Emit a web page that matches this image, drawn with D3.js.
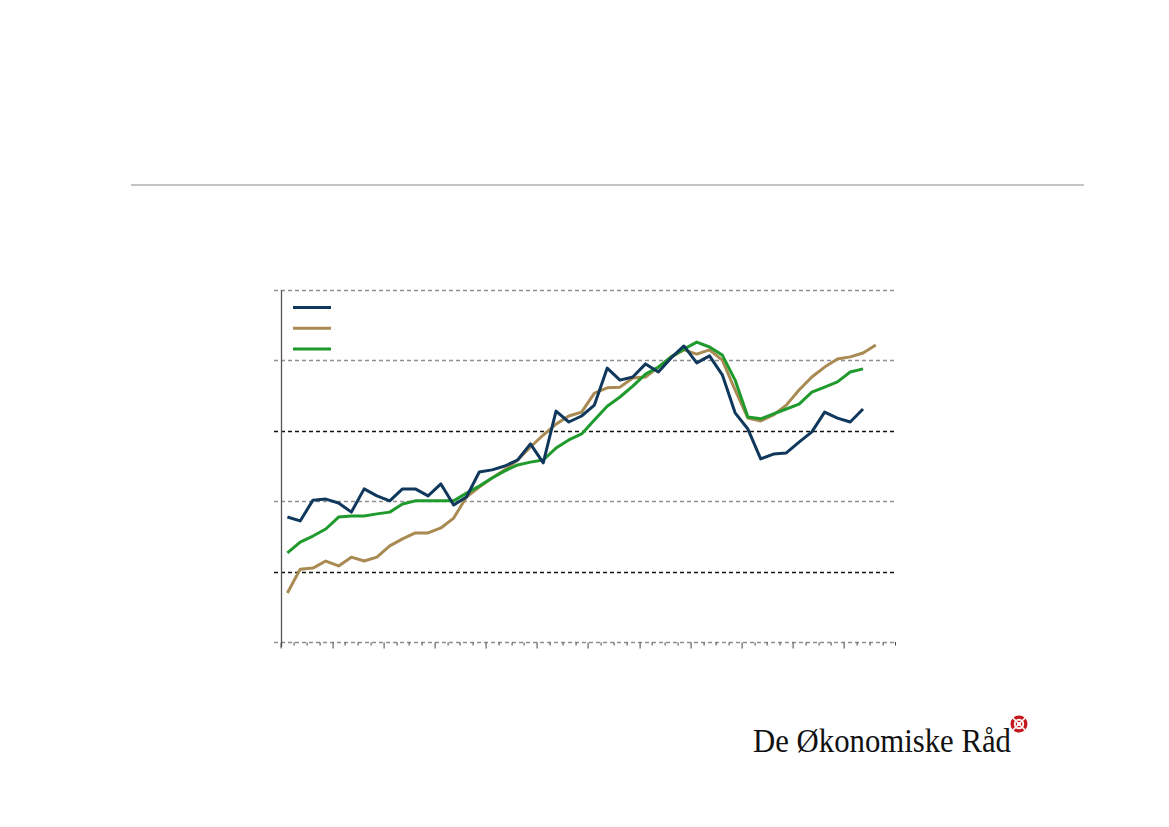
<!DOCTYPE html>
<html>
<head>
<meta charset="utf-8">
<script src="https://cdn.jsdelivr.net/npm/d3@7"></script>
<style>
  html, body { margin: 0; padding: 0; background: #fff; }
  svg { display: block; }
</style>
</head>
<body>
<svg id="chart" width="1169" height="827"></svg>
<script>
// ---- data ----
const years = ["2000","2001","2002","2003","2004","2005","2006","2007","2008","2009","2010","2011"];
const quarterNames = ["K1","K2","K3","K4"];
const quarters = years.flatMap(y => quarterNames.map(q => y + q));

const seriesNavy = [35.5,34.4,40.3,40.6,39.5,36.9,43.5,41.5,40.1,43.5,43.5,41.5,44.9,38.9,41.2,48.3,48.9,50.0,51.7,56.3,50.9,65.6,62.5,64.2,67.3,77.8,74.4,75.3,79.0,76.7,80.7,84.1,79.3,81.3,75.9,65.1,60.5,52.0,53.4,53.7,56.8,59.7,65.3,63.6,62.5,66.2];
const seriesTan = [13.9,20.7,21.0,23.0,21.6,24.1,23.0,24.1,27.3,29.3,31.0,31.0,32.4,35.2,41.2,44.0,46.6,48.9,51.7,55.4,58.8,61.9,64.2,65.3,70.7,72.2,72.4,75.0,75.3,78.1,81.0,83.0,81.8,83.0,80.1,71.6,63.6,62.8,64.5,67.3,71.6,75.3,78.1,80.4,81.0,82.1,84.4];
const seriesGreen = [25.3,28.4,30.1,32.1,35.5,35.8,35.8,36.4,36.9,39.2,40.1,40.1,40.1,40.1,42.3,44.3,46.6,48.6,50.3,51.1,51.7,55.1,57.4,59.1,63.1,67.0,69.6,72.7,76.1,78.1,81.0,83.2,85.2,83.8,81.5,74.4,63.9,63.4,64.8,66.2,67.6,71.0,72.4,73.9,76.7,77.6];

const yTicks = [0, 20, 40, 60, 80, 100];
const gridDark = [20, 60];

// ---- layout ----
const svg = d3.select("#chart");
const plotLeft = 281, plotRight = 895, plotTop = 290, plotBottom = 642;

const x = d3.scaleBand().domain(quarters).range([plotLeft, plotRight]).paddingInner(0).paddingOuter(0);
const y = d3.scaleLinear().domain([0, 100]).range([plotBottom, plotTop]);
const cx = q => x(q) + x.bandwidth() / 2;

// top separator
svg.append("line").attr("x1", 131).attr("x2", 1084).attr("y1", 185).attr("y2", 185)
  .attr("stroke", "#c4c4c4").attr("stroke-width", 2);

// gridlines
svg.append("g").selectAll("line").data(yTicks).join("line")
  .attr("x1", 274).attr("x2", plotRight).attr("y1", d => Math.round(y(d)) + 0.5).attr("y2", d => Math.round(y(d)) + 0.5)
  .attr("stroke", d => gridDark.includes(d) ? "#111" : "#8f8f8f")
  .attr("stroke-width", 1.3)
  .attr("stroke-dasharray", "4,3");

// y axis line
svg.append("line").attr("x1", plotLeft + 0.5).attr("x2", plotLeft + 0.5).attr("y1", plotTop).attr("y2", plotBottom + 5)
  .attr("stroke", "#555").attr("stroke-width", 1.3);

// x axis ticks (quarters minor, years major)
const xAxis = d3.axisBottom(x).tickValues(quarters).tickSize(3).tickFormat("");
const gx = svg.append("g").attr("transform", `translate(${-x.bandwidth()/2},${Math.round(plotBottom) + 0.5})`).call(xAxis);
gx.select(".domain").remove();
gx.selectAll(".tick").attr("transform", d => `translate(${Math.round(x(d) + x.bandwidth()/2) + 0.5},0)`);
gx.selectAll(".tick line").attr("stroke", "#444").attr("stroke-width", 1)
  .attr("y2", d => d.endsWith("K1") ? 6 : 3);
svg.append("line").attr("x1", plotRight + 0.5).attr("x2", plotRight + 0.5).attr("y1", plotBottom).attr("y2", plotBottom + 3.5)
  .attr("stroke", "#444");

// lines
const line = d3.line().x((d, i) => cx(quarters[i])).y(d => y(d));
const series = [
  {data: seriesTan, color: "#a88a52"},
  {data: seriesGreen, color: "#1f9a2c"},
  {data: seriesNavy, color: "#10385c"}
];
svg.append("g").selectAll("path").data(series).join("path")
  .attr("d", d => line(d.data))
  .attr("fill", "none")
  .attr("stroke", d => d.color)
  .attr("stroke-width", 3)
  .attr("stroke-linejoin", "round");

// legend
const legendItems = [
  {color: "#10385c"}, {color: "#a88a52"}, {color: "#1f9a2c"}
];
svg.append("g").selectAll("line").data(legendItems).join("line")
  .attr("x1", 293).attr("x2", 331)
  .attr("y1", (d, i) => 307.5 + i * 20.7).attr("y2", (d, i) => 307.5 + i * 20.7)
  .attr("stroke", d => d.color).attr("stroke-width", 3);

// logo
svg.append("text").attr("x", 753).attr("y", 752)
  .attr("font-family", "Liberation Serif, Times New Roman, serif")
  .attr("font-size", 33)
  .attr("fill", "#111")
  .attr("textLength", 258).attr("lengthAdjust", "spacingAndGlyphs")
  .text("De Økonomiske Råd");

const logo = svg.append("g").attr("transform", "translate(1019,724)");
logo.append("circle").attr("r", 8.5).attr("fill", "#c4161c");
logo.append("circle").attr("r", 5.2).attr("fill", "#fff");
logo.append("rect").attr("x", -3.2).attr("y", -3.2).attr("width", 6.4).attr("height", 6.4)
  .attr("fill", "#c4161c");
[45, 135, 225, 315].forEach(a => {
  logo.append("line").attr("x1", 0).attr("y1", 0).attr("x2", 9.5).attr("y2", 0)
    .attr("transform", `rotate(${a})`).attr("stroke", "#fff").attr("stroke-width", 1.6);
});
logo.append("rect").attr("x", -1.8).attr("y", -1.8).attr("width", 3.6).attr("height", 3.6).attr("fill", "#fff");
</script>
</body>
</html>
